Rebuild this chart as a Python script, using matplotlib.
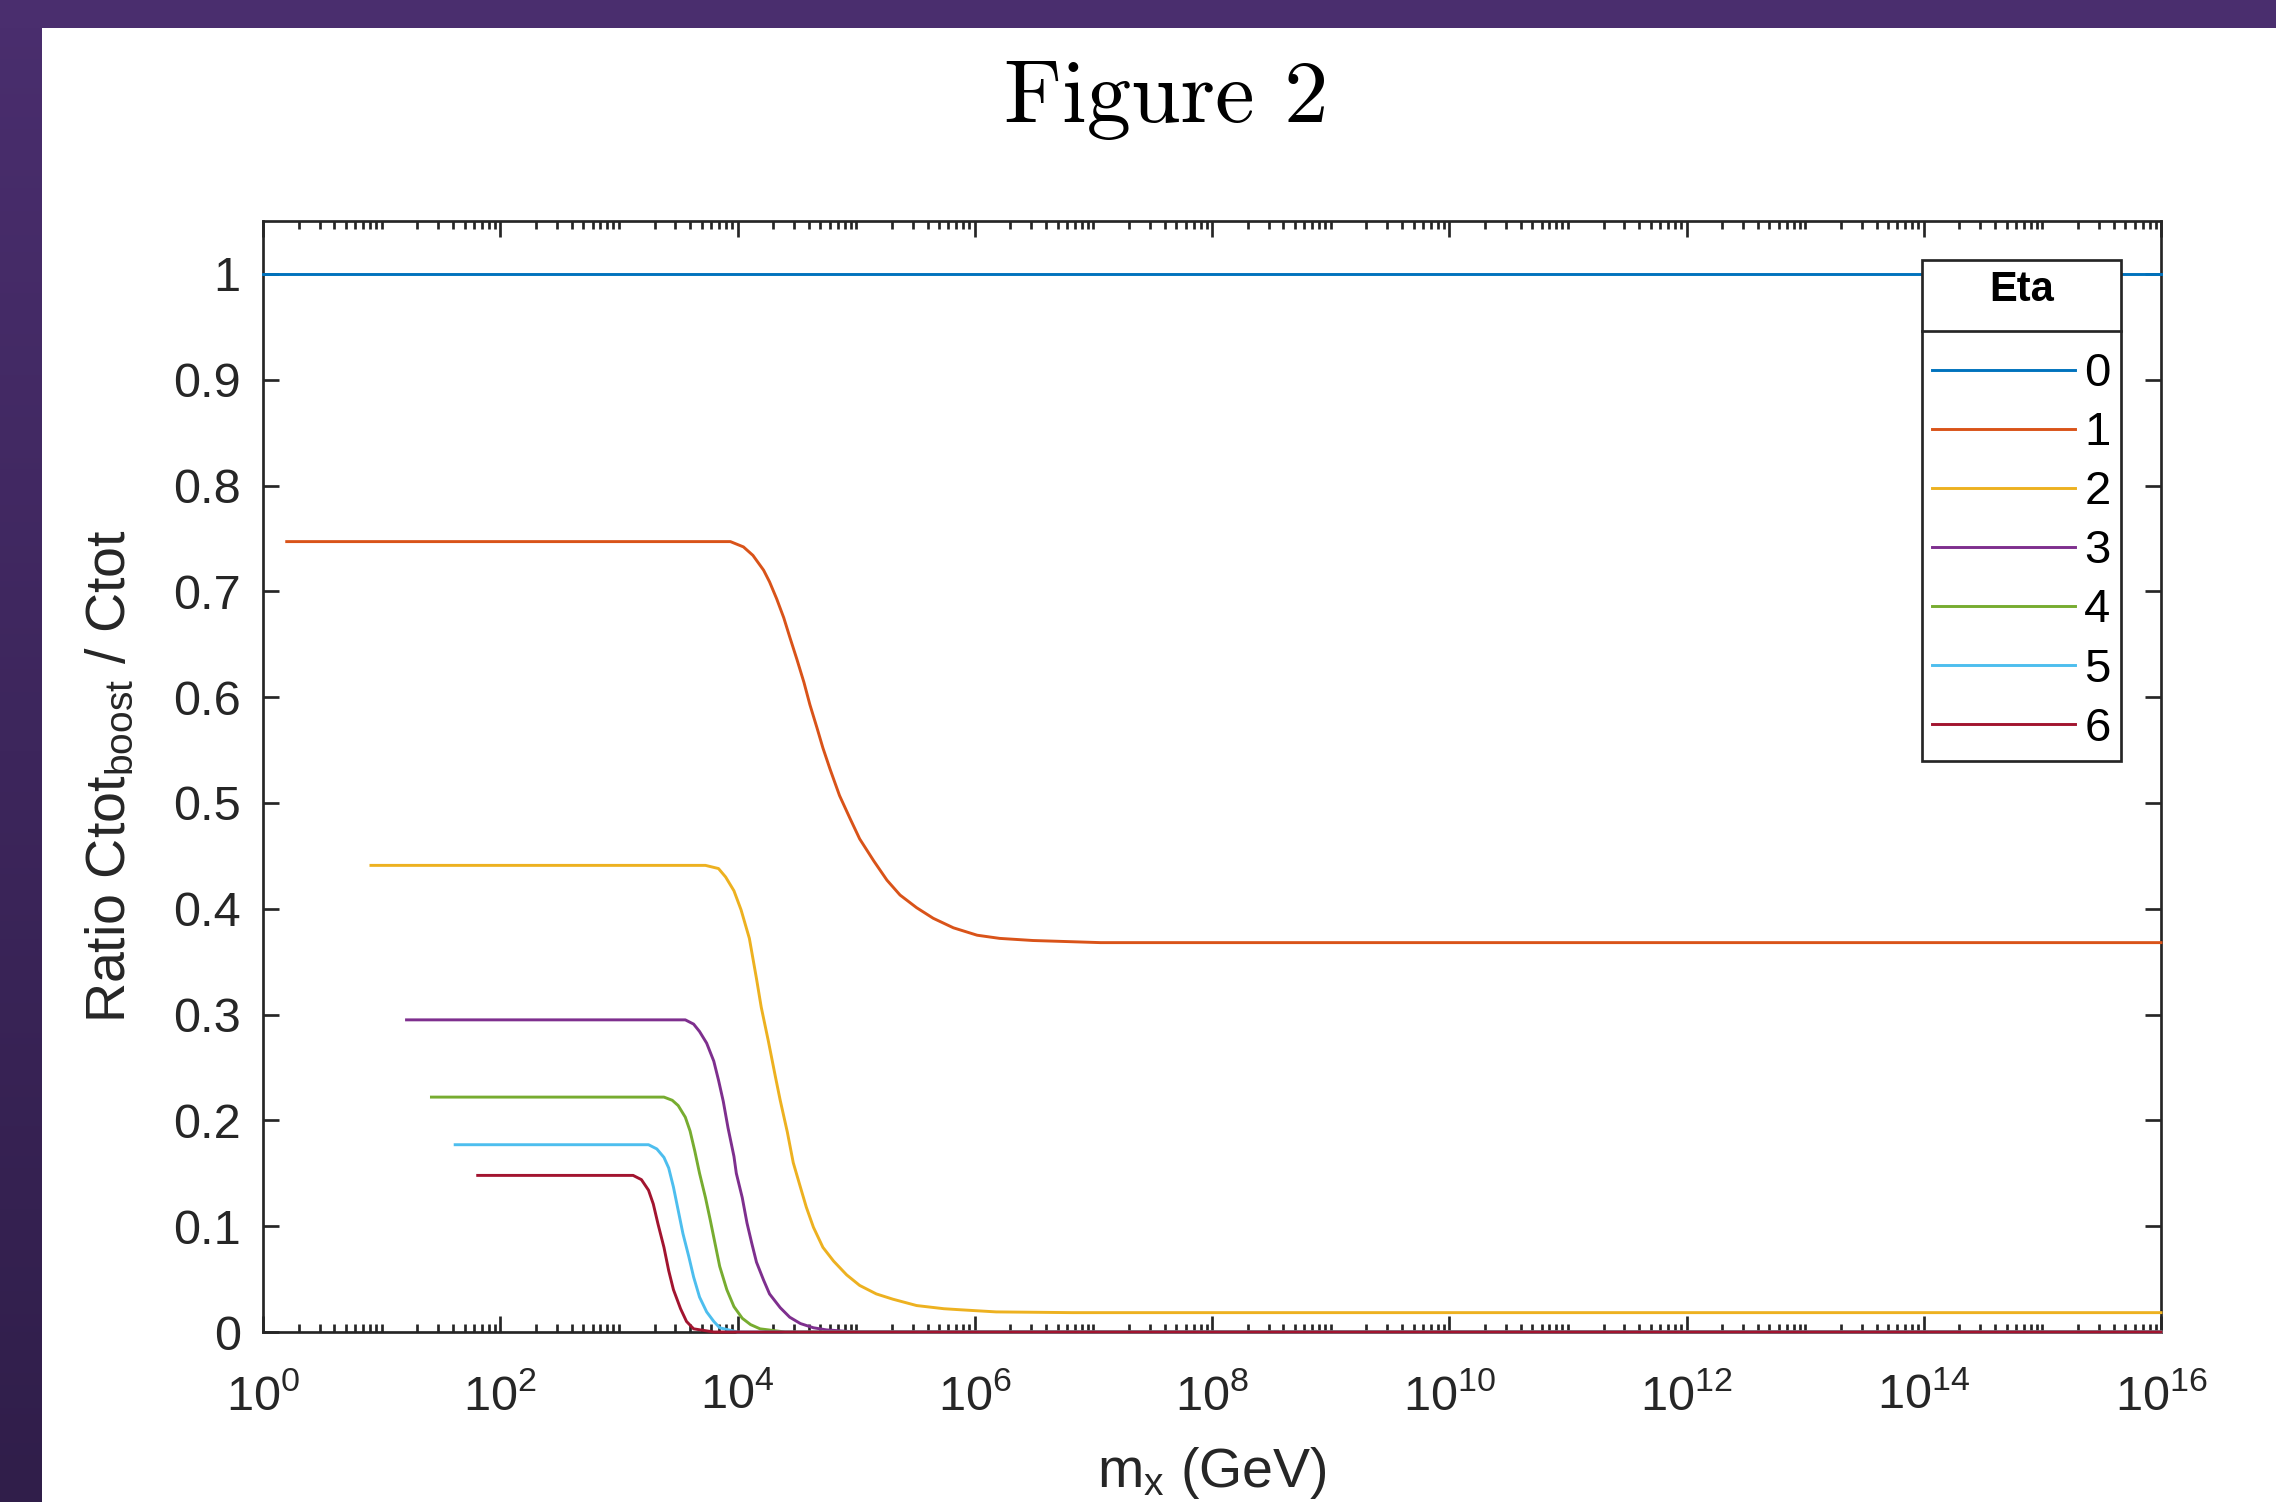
import numpy as np
import matplotlib
matplotlib.use('Agg')
from matplotlib import pyplot as plt
from matplotlib.lines import Line2D
from matplotlib.patches import Rectangle
from matplotlib.colors import LinearSegmentedColormap
from matplotlib.ticker import LogLocator, FixedLocator, LogFormatterMathtext, NullFormatter

# values, x given as log10(m_x / GeV)
eta_labels = ['0', '1', '2', '3', '4', '5', '6']

logm_0 = [0.0, 16.0]
ratio_0 = [1.0, 1.0]

logm_1 = [0.2, 3.94, 4.05, 4.13, 4.22, 4.27, 4.33, 4.39, 4.44, 4.50, 4.56, 4.61, 4.67, 4.72,
          4.78, 4.86, 4.95, 5.03, 5.15, 5.26, 5.37, 5.51, 5.65, 5.82, 6.02, 6.21, 6.49, 7.06, 7.73, 16.0]
ratio_1 = [0.747, 0.747, 0.742, 0.734, 0.720, 0.709, 0.693, 0.675, 0.657, 0.636, 0.614, 0.593, 0.571, 0.552,
           0.532, 0.507, 0.485, 0.466, 0.445, 0.427, 0.413, 0.401, 0.391, 0.382, 0.375, 0.372, 0.370, 0.368, 0.368, 0.368]

logm_2 = [0.91, 3.73, 3.84, 3.90, 3.97, 4.03, 4.10, 4.16, 4.20, 4.26, 4.32, 4.36, 4.42, 4.47, 4.53,
          4.58, 4.64, 4.72, 4.81, 4.92, 5.03, 5.17, 5.31, 5.51, 5.74, 5.88, 6.18, 6.82, 16.0]
ratio_2 = [0.441, 0.441, 0.438, 0.430, 0.417, 0.399, 0.372, 0.334, 0.307, 0.275, 0.241, 0.219, 0.189, 0.160, 0.137,
           0.118, 0.099, 0.080, 0.067, 0.054, 0.044, 0.036, 0.031, 0.025, 0.022, 0.021, 0.019, 0.0183, 0.0183]

logm_3 = [1.21, 3.56, 3.63, 3.68, 3.74, 3.80, 3.84, 3.88, 3.92, 3.97, 3.99, 4.04, 4.08, 4.12,
          4.16, 4.22, 4.27, 4.36, 4.44, 4.53, 4.64, 4.75, 5.0, 16.0]
ratio_3 = [0.295, 0.295, 0.291, 0.284, 0.273, 0.256, 0.238, 0.218, 0.193, 0.166, 0.150, 0.127, 0.103, 0.084,
           0.066, 0.049, 0.036, 0.023, 0.014, 0.008, 0.004, 0.002, 0.0, 0.0]

logm_4 = [1.42, 3.38, 3.45, 3.50, 3.56, 3.60, 3.64, 3.68, 3.73, 3.77, 3.81, 3.85, 3.91, 3.97,
          4.04, 4.11, 4.19, 4.4, 16.0]
ratio_4 = [0.222, 0.222, 0.219, 0.214, 0.203, 0.190, 0.171, 0.150, 0.127, 0.106, 0.084, 0.062, 0.040, 0.024,
           0.013, 0.007, 0.003, 0.0, 0.0]

logm_5 = [1.62, 3.25, 3.32, 3.38, 3.42, 3.46, 3.50, 3.54, 3.59, 3.63, 3.68, 3.74, 3.80, 3.85, 4.0, 16.0]
ratio_5 = [0.177, 0.177, 0.173, 0.165, 0.155, 0.137, 0.115, 0.093, 0.071, 0.052, 0.033, 0.019, 0.010, 0.004, 0.0, 0.0]

logm_6 = [1.81, 3.12, 3.19, 3.25, 3.29, 3.33, 3.38, 3.42, 3.46, 3.52, 3.57, 3.63, 3.8, 16.0]
ratio_6 = [0.148, 0.148, 0.144, 0.134, 0.121, 0.102, 0.080, 0.058, 0.040, 0.022, 0.010, 0.003, 0.0, 0.0]

series = [(logm_0, ratio_0), (logm_1, ratio_1), (logm_2, ratio_2), (logm_3, ratio_3),
          (logm_4, ratio_4), (logm_5, ratio_5), (logm_6, ratio_6)]

# matlab default line colours
colors = ['#0072BD', '#D95319', '#EDB120', '#7E2F8E', '#77AC30', '#4DBEEE', '#A2142F']

plt.rcParams['font.family'] = ['Liberation Sans', 'DejaVu Sans']
plt.rcParams['mathtext.fontset'] = 'custom'
plt.rcParams['mathtext.rm'] = 'Liberation Sans'
plt.rcParams['mathtext.default'] = 'regular'

W, H = 2276, 1502
fig = plt.figure(figsize=(W / 100, H / 100), dpi=100)
fig.patch.set_facecolor('white')

# purple slide frame (top bar + darkening left bar)
band = fig.add_axes([0, 0, 41.7 / W, 1])
band.imshow(np.linspace(0, 1, 256).reshape(-1, 1), aspect='auto',
            cmap=LinearSegmentedColormap.from_list('band', ['#4a2e6e', '#301e4a']))
band.axis('off')
fig.patches.append(Rectangle((0, 1 - 28 / H), 1, 28 / H, transform=fig.transFigure,
                             facecolor='#4a2e6e', edgecolor='none', zorder=5))

fig.text(1166 / W, 1 - 122 / H, 'Figure 2', family='cmr10', fontsize=64,
         ha='center', va='baseline', color='black')

ax = fig.add_axes([263 / W, 1 - 1332 / H, (2161 - 263) / W, (1332 - 221) / H])

# lines sit above the box so the ones that fall to zero show along the bottom edge
for (lm, r), c, lab in zip(series, colors, eta_labels):
    ax.plot(10 ** np.array(lm), r, color=c, lw=2.1, label=lab, clip_on=False,
            solid_joinstyle='round', zorder=3)

ax.set_xscale('log')
ax.set_xlim(1, 1e16)
ax.set_ylim(0, 1.05)
ax.xaxis.set_major_locator(FixedLocator([10.0 ** k for k in range(0, 17, 2)]))
ax.xaxis.set_major_formatter(LogFormatterMathtext())
ax.xaxis.set_minor_locator(LogLocator(base=10, subs=np.arange(1, 10), numticks=200))
ax.xaxis.set_minor_formatter(NullFormatter())
ax.set_yticks(np.arange(0, 1.01, 0.1))
ax.set_yticklabels(['0', '0.1', '0.2', '0.3', '0.4', '0.5', '0.6', '0.7', '0.8', '0.9', '1'])

dark = '#262626'
for s in ax.spines.values():
    s.set_linewidth(1.95)
    s.set_color(dark)
ax.tick_params(which='both', direction='in', top=True, right=True, color=dark,
               labelcolor=dark, labelsize=35, width=1.95)
ax.tick_params(which='major', length=11.5)
ax.tick_params(which='minor', length=5.8)
ax.tick_params(axis='y', pad=16)
ax.tick_params(axis='x', pad=30)

ax.set_xlabel(r'm$_\mathdefault{x}$ (GeV)', fontsize=40, color=dark, labelpad=18)
ax.set_ylabel(r'Ratio Ctot$_\mathdefault{boost}$ / Ctot', fontsize=40, color=dark, labelpad=26)

leg = ax.legend(title='Eta', loc='upper right', bbox_to_anchor=(0.9789, 0.9649),
                fontsize=34, title_fontsize=30, handlelength=3.02, handletextpad=0.2,
                labelspacing=0.32, borderpad=0.22, borderaxespad=0, fancybox=False,
                framealpha=1, edgecolor=dark)
leg.set_zorder(5)
leg.get_frame().set_linewidth(1.95)
leg.get_title().set_fontweight('bold')
for ln in leg.get_lines():
    ln.set_linewidth(2.1)
# wider gap between title and entries, as in the matlab legend
leg._legend_box.sep = 30

# matlab draws a rule between the legend title and the entries
fig.canvas.draw()
rend = fig.canvas.get_renderer()
fb = leg.get_frame().get_window_extent(rend)
tb = leg.get_title().get_window_extent(rend)
hb = leg._legend_handle_box.get_window_extent(rend)
ysep = 0.5 * (tb.y0 + hb.y1)
fig.add_artist(Line2D([fb.x0 / W, fb.x1 / W], [ysep / H, ysep / H], transform=fig.transFigure,
                      color=dark, lw=1.95, zorder=10))

fig.savefig('out.png', dpi=100)
